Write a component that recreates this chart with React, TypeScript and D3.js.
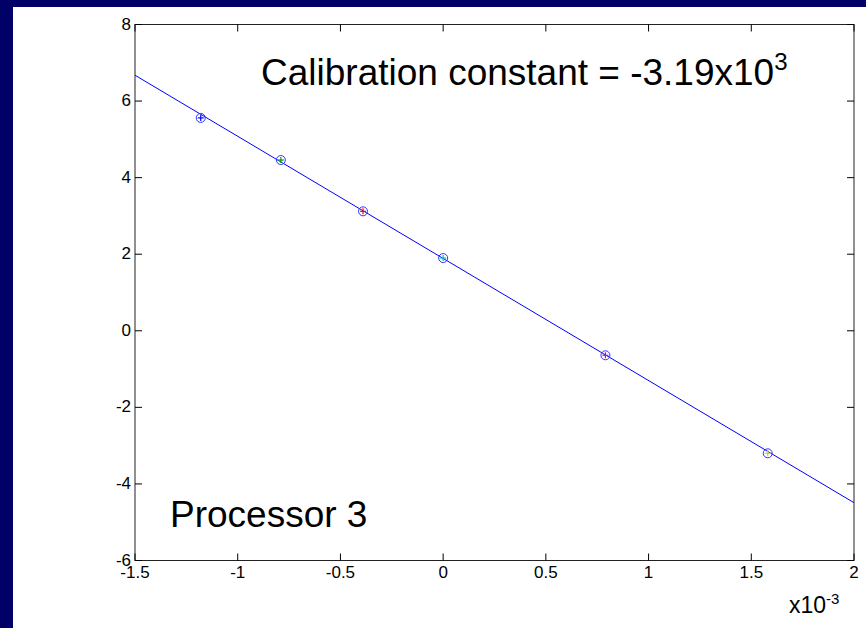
import React from "react";
import * as d3 from "d3";

// Measured (x, y) pairs, x in units of 1e-3
const xValues = [-1.18, -0.79, -0.39, 0.0, 0.79, 1.58];
const yValues = [5.56, 4.46, 3.12, 1.9, -0.64, -3.2];
const innerColors = ["#0000ff", "#00a000", "#ff0000", "#00c0c0", "#d000d0", "#e0d000"];

// Fitted line: slope is the calibration constant (x1e3)
const slope = -3.19;
const intercept = 1.89;

const xTicks = [-1.5, -1, -0.5, 0, 0.5, 1, 1.5, 2];
const yTicks = [-6, -4, -2, 0, 2, 4, 6, 8];

const W = 866;
const H = 628;
const left = 135;
const right = 854;
const top = 24.5;
const bottom = 560.5;

export default function App() {
  const x = d3.scaleLinear().domain([-1.5, 2]).range([left, right]);
  const y = d3.scaleLinear().domain([-6, 8]).range([bottom, top]);
  const font = "'Liberation Sans', Arial, sans-serif";

  const fitLine = d3
    .line<number>()
    .x((d) => x(d))
    .y((d) => y(intercept + slope * d));

  return (
    <svg
      width={W}
      height={H}
      style={{ position: "absolute", left: 0, top: 0, display: "block" }}
      fontFamily={font}
    >
      <rect x={0} y={0} width={W} height={H} fill="#000066" />
      <rect x={13} y={7} width={W - 13} height={H - 7} fill="#ffffff" />

      {/* fit line */}
      <path d={fitLine([-1.5, 2]) || ""} stroke="#0000ff" strokeWidth={1} fill="none" />

      {/* data points */}
      {xValues.map((xv, i) => {
        const cx = x(xv);
        const cy = y(yValues[i]);
        return (
          <g key={i}>
            <line x1={cx - 3} x2={cx + 3} y1={cy} y2={cy} stroke={innerColors[i]} strokeWidth={1.2} />
            <line x1={cx} x2={cx} y1={cy - 3} y2={cy + 3} stroke={innerColors[i]} strokeWidth={1.2} />
            <circle cx={cx} cy={cy} r={4.5} fill="none" stroke="#3333ff" strokeWidth={1} />
          </g>
        );
      })}

      {/* axes box */}
      <rect x={left} y={top} width={right - left} height={bottom - top} fill="none" stroke="#222" strokeWidth={1} />

      {/* x ticks */}
      {xTicks.map((t) => (
        <g key={"x" + t}>
          <line x1={x(t)} x2={x(t)} y1={bottom} y2={bottom - 7} stroke="#000" />
          <line x1={x(t)} x2={x(t)} y1={top} y2={top + 7} stroke="#000" />
          <text x={x(t)} y={bottom + 17.5} fontSize={17} textAnchor="middle" fill="#000">
            {String(t)}
          </text>
        </g>
      ))}

      {/* y ticks */}
      {yTicks.map((t) => (
        <g key={"y" + t}>
          <line x1={left} x2={left + 7} y1={y(t)} y2={y(t)} stroke="#000" />
          <line x1={right} x2={right - 7} y1={y(t)} y2={y(t)} stroke="#000" />
          <text x={left - 4} y={y(t) + 5} fontSize={17} textAnchor="end" fill="#000">
            {String(t)}
          </text>
        </g>
      ))}

      {/* exponent label */}
      <text x={789} y={613} fontSize={23} fill="#000">
        x10<tspan dy={-9} fontSize={15}>-3</tspan>
      </text>

      <text x={261} y={85} fontSize={37} fill="#000">
        Calibration constant = -3.19x10<tspan dy={-15} fontSize={24}>3</tspan>
      </text>

      <text x={170} y={527} fontSize={37} fill="#000">
        Processor 3
      </text>
    </svg>
  );
}
